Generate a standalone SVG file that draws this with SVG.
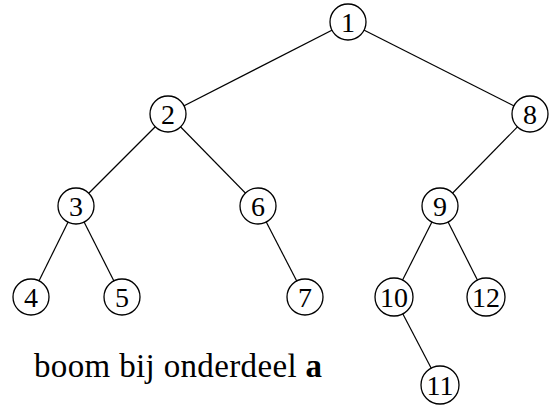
<svg xmlns="http://www.w3.org/2000/svg" width="550" height="406" viewBox="0 0 550 406">
<style>
.n circle{fill:#fff;stroke:#000;stroke-width:1.3}
.n text{font-family:"Liberation Serif","DejaVu Serif",serif;font-size:28px;text-anchor:middle;fill:#000}
.e line{stroke:#000;stroke-width:1.2}
.lbl{font-family:"Liberation Serif","DejaVu Serif",serif;font-size:33px;fill:#000}
</style>
<rect width="550" height="406" fill="#fff"/>
<g id="edges" class="e">
<line x1="348" y1="22" x2="168" y2="114"/>
<line x1="348" y1="22" x2="530" y2="114"/>
<line x1="168" y1="114" x2="76" y2="206"/>
<line x1="168" y1="114" x2="258" y2="206"/>
<line x1="530" y1="114" x2="440" y2="206"/>
<line x1="76" y1="206" x2="31" y2="297"/>
<line x1="76" y1="206" x2="122" y2="297"/>
<line x1="258" y1="206" x2="305" y2="297"/>
<line x1="440" y1="206" x2="394" y2="297"/>
<line x1="440" y1="206" x2="486" y2="297"/>
<line x1="394" y1="297" x2="440" y2="385"/>
</g>
<g id="n1" class="n"><circle cx="348" cy="22" r="18"/><text x="348" y="31.5">1</text></g>
<g id="n2" class="n"><circle cx="168" cy="114" r="18"/><text x="168" y="123.5">2</text></g>
<g id="n8" class="n"><circle cx="530" cy="114" r="18"/><text x="530" y="123.5">8</text></g>
<g id="n3" class="n"><circle cx="76" cy="206" r="18"/><text x="76" y="215.5">3</text></g>
<g id="n6" class="n"><circle cx="258" cy="206" r="18"/><text x="258" y="215.5">6</text></g>
<g id="n9" class="n"><circle cx="440" cy="206" r="18"/><text x="440" y="215.5">9</text></g>
<g id="n4" class="n"><circle cx="31" cy="297" r="18"/><text x="31" y="306.5">4</text></g>
<g id="n5" class="n"><circle cx="122" cy="297" r="18"/><text x="122" y="306.5">5</text></g>
<g id="n7" class="n"><circle cx="305" cy="297" r="18"/><text x="305" y="306.5">7</text></g>
<g id="n10" class="n"><circle cx="394" cy="297" r="19"/><text x="394" y="306.5">10</text></g>
<g id="n12" class="n"><circle cx="486" cy="297" r="19"/><text x="486" y="306.5">12</text></g>
<g id="n11" class="n"><circle cx="440" cy="385" r="19"/><text x="440" y="394.5">11</text></g>
<text class="lbl" x="34" y="377" textLength="288" lengthAdjust="spacing">boom bij onderdeel <tspan font-weight="bold">a</tspan></text>
</svg>
